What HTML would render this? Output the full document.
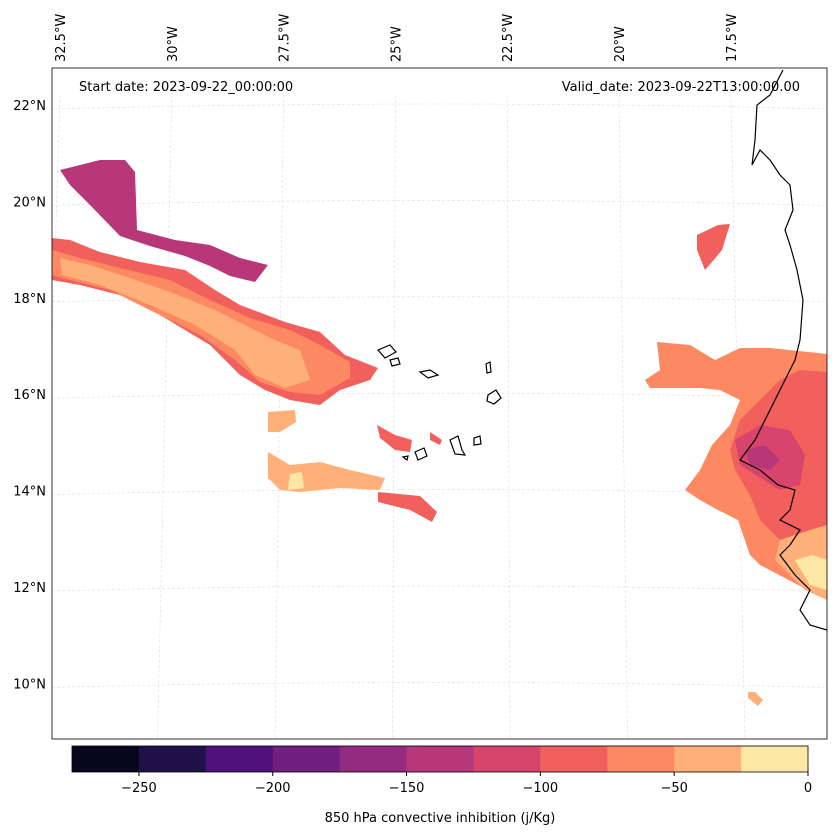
<!DOCTYPE html>
<html><head><meta charset="utf-8">
<style>
html,body{margin:0;padding:0;background:#fff;}
svg{display:block;font-family:"DejaVu Sans","Liberation Sans",sans-serif;}
</style></head>
<body>
<svg id="chart" width="837" height="836" viewBox="0 0 837 836">
<g id="mapg"></g>
<g id="cbg"></g>
</svg>
<script>
const NS="http://www.w3.org/2000/svg";
// colorbar data
const levels=[-275,-250,-225,-200,-175,-150,-125,-100,-75,-50,-25,0];
const levelColors=["#08071e","#20114b","#4f127b","#721f81","#932b80","#b73779","#d8456c","#f1605d","#fc8961","#feb078","#fde7a6"];
const cbTicks=[-250,-200,-150,-100,-50,0];
const lonLabels=["32.5°W","30°W","27.5°W","25°W","22.5°W","20°W","17.5°W"];
const lonVals=[-32.5,-30,-27.5,-25,-22.5,-20,-17.5];
const latLabels=["22°N","20°N","18°N","16°N","14°N","12°N","10°N"];
const latVals=[22,20,18,16,14,12,10];
// contour regions: value + outline in screen px (traced)
const regionValues=[-130,-145,-90,-60,-40,-40,-40,-20,-90,-90,-90,-80,-60,-90,-120,-140,-40,-20,-40];
const regionShapes=[
 [[60,170],[100,160],[125,160],[135,172],[137,230],[175,240],[210,245],[240,258],[268,265],[255,282],[230,276],[210,266],[185,256],[150,246],[120,236],[90,205],[70,185]],
 [[80,175],[100,168],[120,172],[125,200],[110,210],[95,195]],
 [[52,238],[70,240],[100,252],[140,262],[185,270],[215,290],[240,305],[285,322],[320,332],[345,355],[378,368],[370,380],[340,390],[320,405],[290,400],[265,390],[240,375],[210,345],[160,315],[120,295],[80,285],[52,280]],
 [[52,250],[80,258],[120,268],[170,280],[210,300],[250,318],[290,330],[320,345],[350,362],[350,378],[320,395],[290,392],[260,382],[235,360],[200,335],[150,310],[110,290],[70,280],[52,275]],
 [[60,258],[90,265],[130,278],[170,292],[215,310],[245,325],[275,340],[300,350],[310,380],[285,388],[255,375],[235,350],[195,325],[150,305],[100,285],[62,275]],
 [[268,412],[295,410],[296,422],[280,432],[268,432]],
 [[268,452],[290,465],[320,462],[350,470],[385,478],[380,490],[340,488],[300,492],[280,490],[268,478]],
 [[290,474],[302,472],[304,488],[288,490]],
 [[378,492],[420,496],[437,512],[432,522],[410,510],[378,502]],
 [[377,425],[395,435],[412,440],[410,452],[395,450],[380,438]],
 [[430,432],[442,440],[440,445],[430,440]],
 [[697,235],[718,225],[730,224],[722,250],[712,262],[705,270],[697,250]],
 [[645,380],[660,370],[657,342],[690,345],[715,360],[740,348],[770,348],[827,354],[827,600],[760,565],[750,555],[738,520],[718,510],[700,500],[685,490],[700,470],[712,445],[730,425],[740,400],[720,390],[700,388],[680,388],[650,388]],
 [[740,420],[760,400],[780,380],[800,370],[827,372],[827,560],[800,550],[780,540],[760,520],[750,495],[735,470],[730,450]],
 [[735,440],[760,425],[790,430],[805,455],[800,485],[780,490],[760,478],[740,465]],
 [[745,450],[765,445],[780,460],[770,470],[750,465]],
 [[780,540],[810,530],[827,525],[827,600],[805,590],[790,575],[775,560]],
 [[795,560],[812,555],[827,560],[827,590],[810,585]],
 [[748,692],[755,692],[763,700],[758,706],[748,698]]
];
const coast=[[783,70],[770,95],[757,105],[755,140],[752,165],[760,150],[770,160],[780,175],[790,185],[793,210],[785,230],[790,245],[797,270],[803,300],[800,340],[795,360],[785,380],[770,410],[755,440],[740,460],[760,470],[778,485],[795,490],[790,510],[780,520],[800,530],[790,545],[780,555],[795,575],[810,590],[800,610],[810,625],[827,630]];
const islands=[
 [[378,350],[390,345],[396,352],[385,358]],[[390,360],[398,358],[400,364],[392,366]],
 [[420,372],[430,370],[438,375],[428,378]],[[486,364],[490,362],[491,372],[487,373]],
 [[488,395],[496,390],[501,398],[494,404],[487,401]],[[450,440],[458,436],[462,450],[465,455],[455,454]],
 [[415,452],[424,448],[427,456],[418,460]],[[474,438],[480,436],[481,444],[474,445]],[[403,457],[408,456],[407,460]]
];
function el(tag,attrs,parent){const e=document.createElementNS(NS,tag);for(const k in attrs)e.setAttribute(k,attrs[k]);parent.appendChild(e);return e;}
const mapg=document.getElementById("mapg"),cbg=document.getElementById("cbg");
const X0=52,X1=827,Y0=68,Y1=739;
function latY(lat){return 587-(lat-12)*48.2;}
function lonXTop(lon){return 60+(lon+32.5)/2.5*111.8;}
function lonXBot(lon){return 40+(lon+32.5)/2.5*117.5;}
function colorFor(v){for(let i=0;i<levels.length-1;i++){if(v>=levels[i]&&v<levels[i+1])return levelColors[i];}return levelColors[levelColors.length-1];}
function cbX(v){return 72+(v-levels[0])/(levels[levels.length-1]-levels[0])*(808-72);}
const clip=el("clipPath",{id:"mclip"},el("defs",{},mapg));
el("rect",{x:X0,y:Y0,width:X1-X0,height:Y1-Y0},clip);
const inner=el("g",{"clip-path":"url(#mclip)"},mapg);
latVals.forEach((lat,i)=>{const y=latY(lat);
 const l=el("path",{d:`M${X0} ${y+4} Q${(X0+X1)/2} ${y-6} ${X1} ${y+4}`,fill:"none",stroke:"#ddd","stroke-width":0.6,"stroke-dasharray":"3,2"},inner);
 
 const t=el("text",{x:46,y:y+5,"text-anchor":"end","font-size":13,fill:"#000"},mapg);t.textContent=latLabels[i];
 
});
lonVals.forEach((lon,i)=>{const xt=lonXTop(lon),xb=lonXBot(lon);
 const l=el("line",{x1:xt,y1:95,x2:xb,y2:Y1,stroke:"#ddd","stroke-width":0.6,"stroke-dasharray":"3,2"},inner);
 
 const t=el("text",{x:0,y:0,"font-size":13,fill:"#000",transform:`translate(${xt+5},62) rotate(-90)`},mapg);t.textContent=lonLabels[i];
 
});
regionShapes.forEach((pts,i)=>{const p=el("polygon",{points:pts.map(q=>q.join(",")).join(" "),fill:colorFor(regionValues[i])},inner);
 });
const c=el("polyline",{points:coast.map(q=>q.join(",")).join(" "),fill:"none",stroke:"#000","stroke-width":1.2},inner);

islands.forEach(pts=>{const p=el("polygon",{points:pts.map(q=>q.join(",")).join(" "),fill:"none",stroke:"#000","stroke-width":1.2},inner);
 });
const fr=el("rect",{x:X0,y:Y0,width:X1-X0,height:Y1-Y0,fill:"none",stroke:"#000","stroke-width":0.8},mapg);

const t1=el("text",{x:79,y:91,"font-size":13},mapg);t1.textContent="Start date: 2023-09-22_00:00:00";

const t2=el("text",{x:800,y:91,"font-size":13,"text-anchor":"end"},mapg);t2.textContent="Valid_date: 2023-09-22T13:00:00.00";

for(let i=0;i<levelColors.length;i++){const x=cbX(levels[i]),w=cbX(levels[i+1])-x;
 const r=el("rect",{x:x,y:746,width:w+0.5,height:26,fill:levelColors[i]},cbg);
 }
el("rect",{x:72,y:746,width:736,height:26,fill:"none",stroke:"#000","stroke-width":0.8},cbg);
cbTicks.forEach(v=>{const x=cbX(v);el("line",{x1:x,y1:772,x2:x,y2:776,stroke:"#000"},cbg);
 const t=el("text",{x:x,y:792,"font-size":13,"text-anchor":"middle"},cbg);t.textContent=v<0?"\u2212"+Math.abs(v):String(v);
 });
const ct=el("text",{x:440,y:822,"font-size":13,"text-anchor":"middle"},cbg);ct.textContent="850 hPa convective inhibition (j/Kg)";

</script>
</body></html>
